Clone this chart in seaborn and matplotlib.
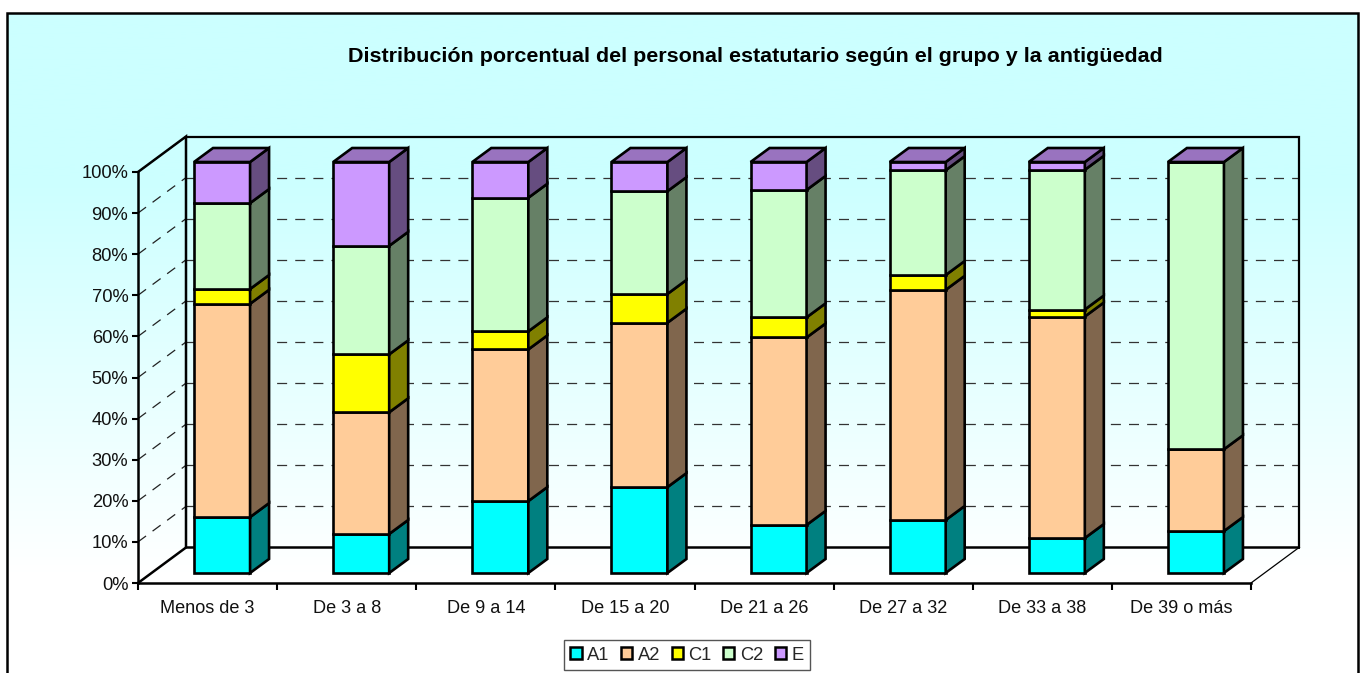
import numpy as np
import pandas as pd
import matplotlib
matplotlib.use("Agg")
import matplotlib.pyplot as plt
from matplotlib.patches import Polygon, Patch
from matplotlib.colors import to_rgb
import seaborn as sns

categories = ["Menos de 3", "De 3 a 8", "De 9 a 14", "De 15 a 20",
              "De 21 a 26", "De 27 a 32", "De 33 a 38", "De 39 o más"]
A1 = [13.6, 9.5, 17.5, 20.9, 11.7, 12.9, 8.5, 10.2]
A2 = [51.9, 29.6, 36.9, 40.0, 45.6, 56.0, 53.9, 19.9]
C1 = [3.6, 14.1, 4.4, 7.0, 4.9, 3.6, 1.7, 0.0]
C2 = [20.9, 26.4, 32.5, 25.0, 31.0, 25.5, 34.0, 69.9]
E = [10.0, 20.4, 8.7, 7.1, 6.8, 2.0, 1.9, 0.0]
series_names = ["A1", "A2", "C1", "C2", "E"]
series_values = [A1, A2, C1, C2, E]
series_colors = ["#00FFFF", "#FFCC99", "#FFFF00", "#CCFFCC", "#CC99FF"]
title = "Distribución porcentual del personal estatutario según el grupo y la antigüedad"

W, H = 1364, 673
sns.set_theme(style="white")
plt.rcParams["font.family"] = ["Liberation Sans", "DejaVu Sans"]
fig = plt.figure(figsize=(W / 100, H / 100), dpi=100, facecolor="white")

# background gradient + frame, in pixel coordinates
bg = fig.add_axes([0, 0, 1, 1], zorder=0)
bg.axis("off")
rows = np.arange(H)
frac = np.clip((rows - 170) / (570 - 170), 0, 1)[:, None, None]
top, bottom = np.array(to_rgb("#CCFFFF")), np.array([1.0, 1.0, 1.0])
bg.imshow(top * (1 - frac) + bottom * frac, extent=(7, 1358, H, 13), aspect="auto", zorder=0)
bg.set_xlim(0, W)
bg.set_ylim(H, 0)
bg.plot([7, 7, 1358, 1358], [H + 5, 13, 13, H + 5], color="black", lw=1.8, solid_joinstyle="miter", zorder=2)
bg.text(755, 56, title, ha="center", va="center", fontsize=15.45, fontweight="bold", color="black")

# main axes = front plane of the 3-D box
left, right, y0, y100 = 138, 1251, 583, 172
ax = fig.add_axes([left / W, 1 - y0 / H, (right - left) / W, (y0 - y100) / H], zorder=1)
ax.patch.set_alpha(0)

px_x = (right - left) / len(categories)
px_y = (y0 - y100) / 100
wall_dx, wall_dy = 48 / px_x, 35.5 / px_y
bar_dx, bar_dy = 14.5 / px_x, 10 / px_y
depth_dx, depth_dy = 19 / px_x, 14 / px_y
bar_w = 56 / px_x
xmin, xmax = -0.5, len(categories) - 0.5

ticks = np.arange(0, 101, 10)
# walls and grid
for t in ticks[1:]:
    ax.plot([xmin, xmin + wall_dx], [t, t + wall_dy], color="#222222", lw=0.9,
            dashes=(8, 6.5), clip_on=False, zorder=1)
    if t < 100:
        ax.plot([xmin + wall_dx, xmax + wall_dx], [t + wall_dy] * 2, color="#333333", lw=0.9,
                dashes=(8, 6.5), clip_on=False, zorder=1)
wall_kw = dict(color="black", clip_on=False, zorder=1.5, solid_joinstyle="miter")
ax.plot([xmin, xmin + wall_dx, xmin + wall_dx], [100, 100 + wall_dy, wall_dy], lw=1.8, **wall_kw)
ax.plot([xmin, xmin + wall_dx, xmax + wall_dx], [0, wall_dy, wall_dy], lw=1.8, **wall_kw)
ax.plot([xmin + wall_dx, xmax + wall_dx, xmax + wall_dx], [100 + wall_dy, 100 + wall_dy, wall_dy], lw=1.6, **wall_kw)
ax.plot([xmax, xmax + wall_dx], [0, wall_dy], color="black", lw=0.9, clip_on=False, zorder=1.5)

# stacked bars
df = pd.DataFrame({"grupo": categories, **dict(zip(series_names, series_values))})
cum = np.zeros(len(categories))
LW = 1.9
edge = dict(edgecolor="black", linewidth=LW, joinstyle="miter", clip_on=False, zorder=3)
for name, color in zip(series_names, series_colors):
    vals = df[name].to_numpy(dtype=float)
    n = len(ax.patches)
    sns.barplot(data=df, x="grupo", y=name, order=categories, color=color, saturation=1,
                width=bar_w, bottom=cum + bar_dy, edgecolor="black", linewidth=LW, ax=ax,
                errorbar=None, zorder=3, clip_on=False)
    for p in ax.patches[n:]:
        p.set_x(p.get_x() + bar_dx)
        p.set_joinstyle("miter")
    side = tuple(c * 0.5 for c in to_rgb(color))
    for i, v in enumerate(vals):
        if v <= 0:
            continue
        x = i - bar_w / 2 + bar_dx + bar_w
        y = cum[i] + bar_dy
        ax.add_patch(Polygon([(x, y), (x + depth_dx, y + depth_dy),
                              (x + depth_dx, y + v + depth_dy), (x, y + v)],
                             facecolor=side, **edge))
    cum = cum + vals

# top faces carry the top series' shade
top_shade = tuple(c * 0.75 for c in to_rgb(series_colors[-1]))
for i, c in enumerate(cum):
    x = i - bar_w / 2 + bar_dx
    y = c + bar_dy
    ax.add_patch(Polygon([(x, y), (x + bar_w, y), (x + bar_w + depth_dx, y + depth_dy),
                          (x + depth_dx, y + depth_dy)], facecolor=top_shade, **edge))

# axes
ax.set_xlim(xmin, xmax)
ax.set_ylim(0, 100)
ax.set_xlabel("")
ax.set_ylabel("")
ax.set_yticks(ticks)
ax.set_yticklabels([f"{t}%" for t in ticks])
ax.set_xticks(np.arange(xmin, xmax + 1))
ax.set_xticklabels([])
ax.set_xticks(np.arange(len(categories)), minor=True)
ax.set_xticklabels(categories, minor=True)
ax.tick_params(axis="y", which="major", left=True, length=4.5, width=1.5, pad=2.5, labelsize=13.2, color="black", labelcolor="#111111")
ax.tick_params(axis="x", which="major", bottom=True, length=5, width=1.5, color="black")
ax.tick_params(axis="x", which="minor", bottom=False, length=0, pad=12, labelsize=13.1, labelcolor="#111111")
for s in ["top", "right"]:
    ax.spines[s].set_visible(False)
for s in ["left", "bottom"]:
    ax.spines[s].set_color("black")
    ax.spines[s].set_linewidth(1.8)
    ax.spines[s].set_zorder(2)

handles = [Patch(facecolor=c, edgecolor="black", linewidth=1.8, label=n)
           for n, c in zip(series_names, series_colors)]
fig.legend(handles=handles, ncol=5, loc="center", bbox_to_anchor=(687 / W, 1 - 655 / H),
           frameon=True, fancybox=False, framealpha=1, facecolor="white", edgecolor="#555555",
           fontsize=13.2, handlelength=0.62, handleheight=0.62, handletextpad=0.3,
           columnspacing=0.62, borderpad=0.36, borderaxespad=0).set_zorder(5)

fig.savefig("out.png", dpi=100)
